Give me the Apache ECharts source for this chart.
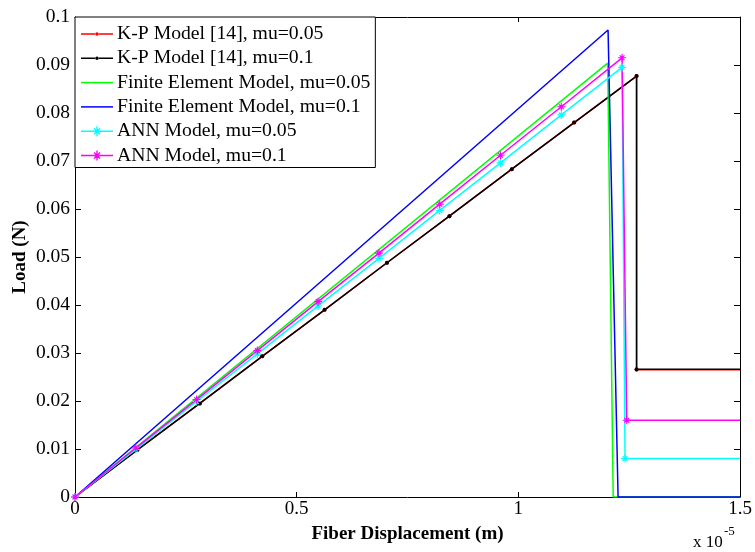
<!DOCTYPE html>
<html>
<head>
    <meta charset="utf-8">
    <script src="https://cdn.jsdelivr.net/npm/echarts@6/dist/echarts.min.js"></script>
    <style>
        html, body { margin: 0; padding: 0; background: #fff; }
    </style>
</head>
<body>
    <div id="main" style="width: 755px;height:552px;"></div>
    <script type="text/javascript">
        // x values are in units of 1e-5 m
        var kpX      = [0, 0.1407, 0.2815, 0.4222, 0.5630, 0.7037, 0.8444, 0.9852, 1.1259, 1.2667, 1.2667, 1.5];
        var kp005Y   = [0, 0.0098, 0.0195, 0.0293, 0.0390, 0.0488, 0.0585, 0.0683, 0.0780, 0.0877, 0.0265, 0.0265];
        var kp01Y    = [0, 0.0098, 0.0195, 0.0293, 0.0390, 0.0488, 0.0585, 0.0683, 0.0780, 0.0877, 0.0266, 0.0266];

        var fe005X   = [0, 1.2016, 1.2140, 1.5];
        var fe005Y   = [0, 0.0904, 0, 0];
        var fe01X    = [0, 1.2024, 1.2250, 1.5];
        var fe01Y    = [0, 0.0973, 0, 0];

        var annX     = [0, 0.1371, 0.2742, 0.4113, 0.5484, 0.6856, 0.8227, 0.9598, 1.0969, 1.2340];
        var ann005Y  = [0, 0.0099, 0.0199, 0.0298, 0.0398, 0.0497, 0.0597, 0.0696, 0.0796, 0.0895];
        var ann01Y   = [0, 0.0102, 0.0203, 0.0305, 0.0407, 0.0508, 0.0610, 0.0712, 0.0813, 0.0915];
        var ann005Drop = [[1.2407, 0.0080], [1.5, 0.0080]];
        var ann01Drop  = [[1.2445, 0.0160], [1.5, 0.0160]];

        var legendNames = ['K-P Model [14], mu=0.05', 'K-P Model [14], mu=0.1',
                           'Finite Element Model, mu=0.05', 'Finite Element Model, mu=0.1',
                           'ANN Model, mu=0.05', 'ANN Model, mu=0.1'];
        var xTicks = [0, 0.5, 1, 1.5];

        var star = 'path://M-0.7,-5 L0.7,-5 L0.7,-0.7 L5,-0.7 L5,0.7 L0.7,0.7 L0.7,5 L-0.7,5 L-0.7,0.7 L-5,0.7 L-5,-0.7 L-0.7,-0.7 Z' +
                   'M-3.5,-2.5 L-2.5,-3.5 L3.5,2.5 L2.5,3.5 Z M2.5,-3.5 L3.5,-2.5 L-2.5,3.5 L-3.5,2.5 Z';

        // legend icons: line with a small marker in the middle
        var iconLine = 'path://M0,6.25 L32,6.25 L32,7.75 L0,7.75 Z';
        var iconDot = 'path://M0,6.25 L14,6.25 L14,7.75 L0,7.75 Z M18,6.25 L32,6.25 L32,7.75 L18,7.75 Z' +
                      'M14.2,7 A1.8,1.8 0 1,1 17.8,7 A1.8,1.8 0 1,1 14.2,7 Z';
        var iconStar = 'path://M0,6.25 L11,6.25 L11,7.75 L0,7.75 Z M21,6.25 L32,6.25 L32,7.75 L21,7.75 Z' +
                       'M15.3,2 L16.7,2 L16.7,6.3 L21,6.3 L21,7.7 L16.7,7.7 L16.7,12 L15.3,12 L15.3,7.7 L11,7.7 L11,6.3 L15.3,6.3 Z' +
                       'M12.5,4.5 L13.5,3.5 L19.5,9.5 L18.5,10.5 Z M18.5,3.5 L19.5,4.5 L13.5,10.5 L12.5,9.5 Z';
        var legendIcons = [iconDot, iconDot, iconLine, iconLine, iconStar, iconStar];

        function zip(xs, ys) {
            var out = [];
            for (var i = 0; i < xs.length; i++) out.push([xs[i], ys[i]]);
            return out;
        }
        function withDrop(xs, ys, drop) {
            var out = zip(xs, ys);
            out.push(drop[0]);
            out.push({value: drop[1], symbol: 'none'});
            return out;
        }
        function kpData(ys) {
            var out = zip(kpX, ys);
            out[out.length - 1] = {value: out[out.length - 1], symbol: 'none'};
            return out;
        }

        var font = '"Liberation Serif", "Times New Roman", serif';

        function lineSeries(name, color, data, symbol, size) {
            return {
                name: name,
                type: 'line',
                data: data,
                symbol: symbol,
                symbolSize: size,
                showSymbol: symbol !== 'none',
                lineStyle: {color: color, width: 1.5},
                itemStyle: {color: color, borderWidth: 0},
                emphasis: {disabled: true}
            };
        }

        var option = {
            animation: false,
            backgroundColor: '#fff',
            textStyle: {fontFamily: font},
            grid: {left: 75, right: 15, top: 17, bottom: 55, containLabel: false, outerBoundsMode: 'none'},
            legend: {
                orient: 'vertical',
                left: 75,
                top: 17,
                padding: [7, 5, 2, 6],
                itemWidth: 32,
                itemHeight: 14,
                itemGap: 4.3,
                symbolKeepAspect: true,
                backgroundColor: '#fff',
                borderColor: '#000',
                borderWidth: 1,
                borderRadius: 0,
                selectedMode: false,
                textStyle: {fontFamily: font, fontSize: 19.7, color: '#000', lineHeight: 19, padding: [0, 0, 0, -1]},
                data: legendNames.map(function (n, i) { return {name: n, icon: legendIcons[i]}; })
            },
            xAxis: [{
                type: 'value',
                min: 0, max: 1.5, interval: 0.5,
                name: 'Fiber Displacement (m)',
                nameLocation: 'middle',
                nameGap: 28,
                nameMoveOverlap: false,
                nameTextStyle: {fontFamily: font, fontSize: 19, fontWeight: 'bold', color: '#000'},
                axisLine: {show: true, onZero: false, lineStyle: {color: '#000', width: 1}},
                axisTick: {show: true, inside: true, length: 5, lineStyle: {color: '#000'}},
                axisLabel: {fontFamily: font, fontSize: 19, color: '#000', margin: 3,
                    formatter: function (v) { return xTicks.indexOf(v) >= 0 ? String(v) : ''; }},
                splitLine: {show: false}
            }, {
                type: 'value',
                position: 'top',
                min: 0, max: 1.5, interval: 0.5,
                axisLine: {show: true, onZero: false, lineStyle: {color: '#000', width: 1}},
                axisTick: {show: true, inside: true, length: 5, lineStyle: {color: '#000'}},
                axisLabel: {show: false},
                splitLine: {show: false}
            }],
            yAxis: [{
                type: 'value',
                min: 0, max: 0.1, interval: 0.01,
                name: 'Load (N)',
                nameLocation: 'middle',
                nameGap: 45,
                nameRotate: 90,
                nameMoveOverlap: false,
                nameTextStyle: {fontFamily: font, fontSize: 19, fontWeight: 'bold', color: '#000'},
                axisLine: {show: true, onZero: false, lineStyle: {color: '#000', width: 1}},
                axisTick: {show: true, inside: true, length: 6, lineStyle: {color: '#000'}},
                axisLabel: {fontFamily: font, fontSize: 19.5, color: '#000', margin: 5,
                    formatter: function (v) { return String(Math.round(v * 100) / 100); }},
                splitLine: {show: false}
            }, {
                type: 'value',
                position: 'right',
                min: 0, max: 0.1, interval: 0.01,
                axisLine: {show: true, onZero: false, lineStyle: {color: '#000', width: 1}},
                axisTick: {show: true, inside: true, length: 6, lineStyle: {color: '#000'}},
                axisLabel: {show: false},
                splitLine: {show: false}
            }],
            graphic: [{
                type: 'text',
                left: 693,
                top: 534,
                style: {text: 'x 10', font: '17px ' + font, fill: '#000'}
            }, {
                type: 'text',
                left: 724,
                top: 525,
                style: {text: '-5', font: '13px ' + font, fill: '#000'}
            }],
            series: [
                lineSeries(legendNames[0], '#ff0000', kpData(kp005Y), 'circle', 4),
                lineSeries(legendNames[1], '#000000', kpData(kp01Y), 'circle', 4),
                lineSeries(legendNames[2], '#00ff00', zip(fe005X, fe005Y), 'none', 0),
                lineSeries(legendNames[3], '#0000ff', zip(fe01X, fe01Y), 'none', 0),
                lineSeries(legendNames[4], '#00ffff', withDrop(annX, ann005Y, ann005Drop), star, 8),
                lineSeries(legendNames[5], '#ff00ff', withDrop(annX, ann01Y, ann01Drop), star, 8)
            ]
        };

        var myChart = echarts.init(document.getElementById('main'));
        myChart.setOption(option);
    </script>
</body>
</html>
